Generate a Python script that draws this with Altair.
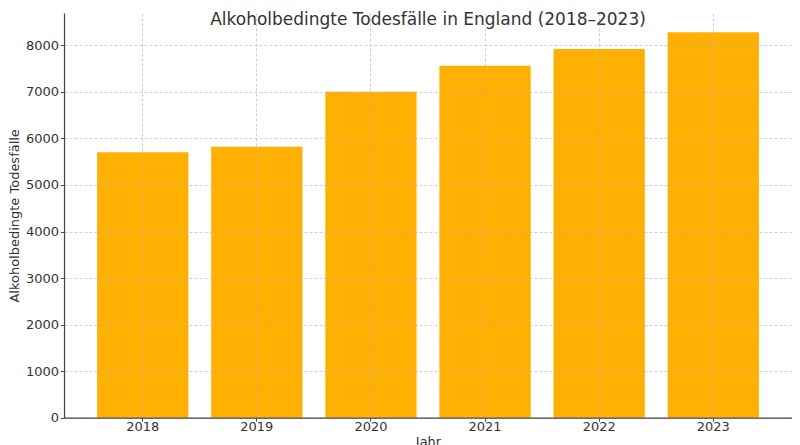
import altair as alt
import pandas as pd

years = ["2018", "2019", "2020", "2021", "2022", "2023"]
deaths = [5700, 5820, 7000, 7560, 7920, 8280]
y_ticks = [0, 1000, 2000, 3000, 4000, 5000, 6000, 7000, 8000]

df = pd.DataFrame({"Jahr": years, "Todesfaelle": deaths})

FONT = "DejaVu Sans"

chart = alt.Chart(df).mark_bar(color="#FFB000").encode(
    x=alt.X(
        "Jahr:N",
        title="Jahr",
        sort=years,
        scale=alt.Scale(paddingInner=0.2, paddingOuter=0.29),
        axis=alt.Axis(labelAngle=0, grid=True, gridDash=[3, 2], gridColor="#b0b0b0",
                      gridOpacity=0.6, zindex=1, tickSize=3.5, tickColor="#444",
                      domainColor="#444", domainWidth=1.2, labelPadding=-1,
                      labelBaseline="top", titlePadding=2),
    ),
    y=alt.Y(
        "Todesfaelle:Q",
        title="Alkoholbedingte Todesfälle",
        scale=alt.Scale(domain=[0, 8694], nice=False, zero=True),
        axis=alt.Axis(values=y_ticks, format="d",
                      grid=True, gridDash=[3, 2], gridColor="#b0b0b0", gridOpacity=0.6,
                      zindex=1, tickSize=3.5, tickColor="#444", domainColor="#444",
                      domainWidth=1.2, labelPadding=2, titlePadding=4),
    ),
).properties(
    width=728,
    height=404.7,
    title=alt.TitleParams("Alkoholbedingte Todesfälle in England (2018–2023)",
                          fontSize=17, font=FONT, fontWeight="normal",
                          color="#333333", offset=-16),
    autosize=alt.AutoSizeParams(type="none"),
    padding={"left": 56, "top": 5, "right": 0, "bottom": 30},
).configure_axis(
    labelFont=FONT, titleFont=FONT, labelFontSize=13, titleFontSize=13,
    labelColor="#333333", titleColor="#333333", titleFontWeight="normal",
).configure_view(stroke=None)

chart.save("out.html", embed_options={"renderer": "svg", "actions": False})
